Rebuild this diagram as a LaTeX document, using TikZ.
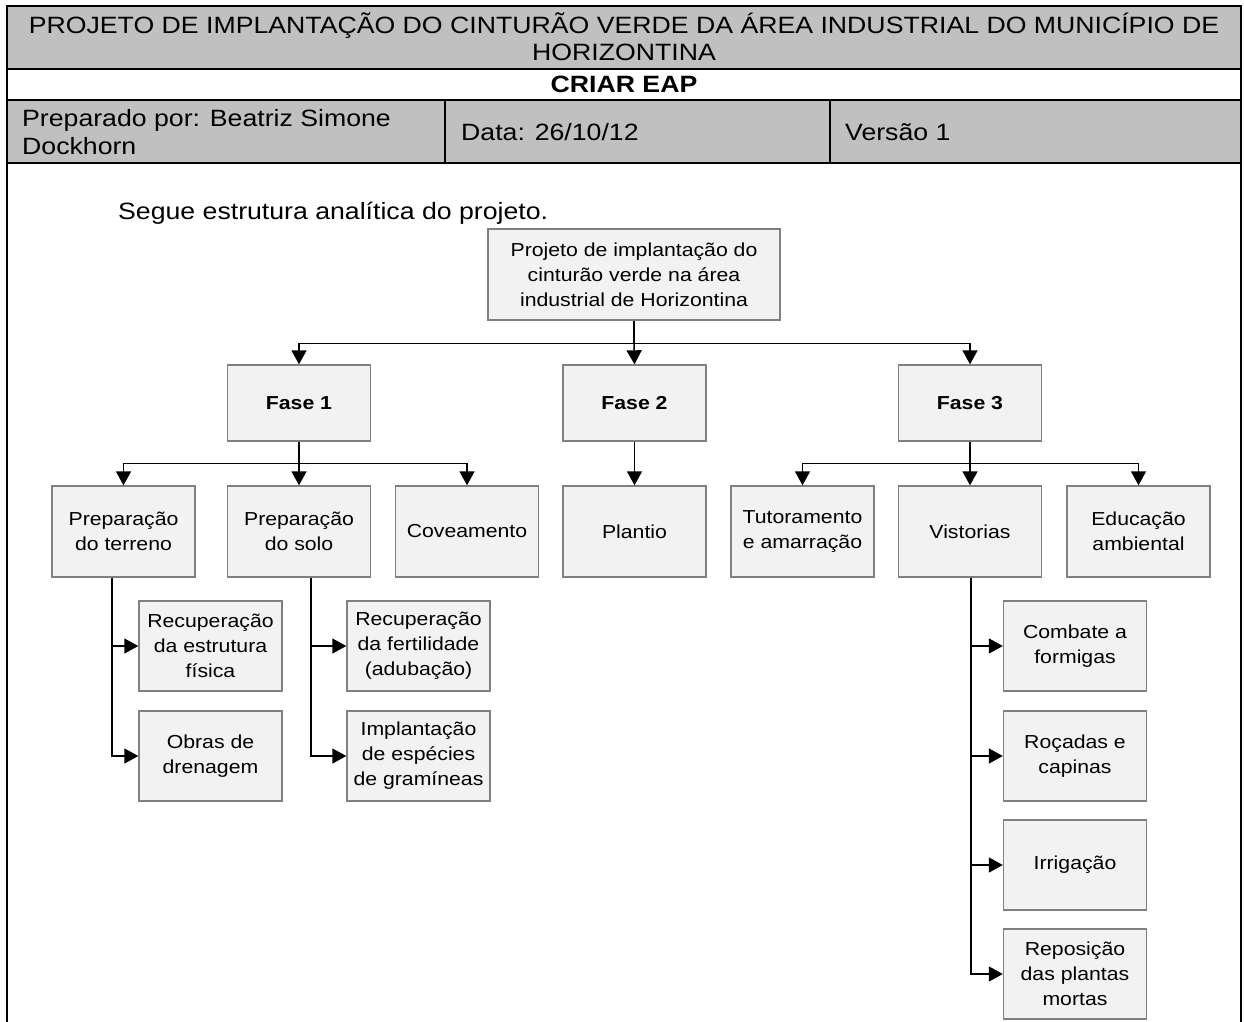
\documentclass[tikz,border=0pt]{standalone}
\usepackage{fontspec}
\setmainfont{Liberation Sans}[FakeStretch=1.13]
\usetikzlibrary{arrows.meta}
\definecolor{hdrgray}{HTML}{C0C0C0}
\definecolor{boxfill}{HTML}{F2F2F2}
\definecolor{boxline}{HTML}{808080}
\begin{document}
\begin{tikzpicture}[x=1pt,y=-1pt,
  tbltext/.style={inner sep=0pt,font=\fontsize{23.6}{27.5}\selectfont},
  wbs/.style={draw=boxline,fill=boxfill,line width=1.4pt,inner sep=2pt,
    align=center,font=\fontsize{18.8}{25}\selectfont,
    minimum width=143pt,minimum height=91pt},
  conn/.style={line width=1.5pt,black},
  arr/.style={conn,-{Triangle[width=15pt,length=14pt]}}]
\useasboundingbox (0,0) rectangle (1244,1021);
% form header
\fill[hdrgray] (7,6) rectangle (1241,69);
\fill[hdrgray] (7,100) rectangle (1241,163);
\draw[line width=2.5pt] (7,1030) -- (7,6) -- (1241,6) -- (1241,1030);
\draw[line width=2.5pt] (7,69) -- (1241,69);
\draw[line width=2.5pt] (7,100) -- (1241,100);
\draw[line width=2.5pt] (7,163) -- (1241,163);
\draw[line width=2.5pt] (445,100) -- (445,163);
\draw[line width=2.5pt] (830,100) -- (830,163);
\node[tbltext,align=center] (title) at (624,37) {PROJETO DE IMPLANTAÇÃO DO CINTURÃO VERDE DA ÁREA INDUSTRIAL DO MUNICÍPIO DE\\HORIZONTINA};
\node[tbltext,font=\fontsize{23.6}{27.5}\selectfont\bfseries] (sub) at (624,84.5) {CRIAR EAP};
\node[tbltext,align=left,anchor=west] (prep) at (22,132) {Preparado por: Beatriz Simone\\Dockhorn};
\node[tbltext,anchor=west] (data) at (461,132) {Data: 26/10/12};
\node[tbltext,anchor=west] (vers) at (845,132) {Versão 1};
\node[tbltext,anchor=west] (intro) at (118,213) {Segue estrutura analítica do projeto.};
% work breakdown structure
\node[wbs,minimum width=292pt] (root) at (634,274.5) {Projeto de implantação do\\cinturão verde na área\\industrial de Horizontina};
\node[wbs,minimum height=76pt,font=\fontsize{18.8}{25}\selectfont\bfseries] (f1) at (299,403) {Fase 1};
\node[wbs,minimum height=76pt,font=\fontsize{18.8}{25}\selectfont\bfseries] (f2) at (634.5,403) {Fase 2};
\node[wbs,minimum height=76pt,font=\fontsize{18.8}{25}\selectfont\bfseries] (f3) at (970,403) {Fase 3};
\node[wbs] (pt) at (123.5,531.5) {Preparação\\do terreno};
\node[wbs] (ps) at (299,531.5) {Preparação\\do solo};
\node[wbs] (cov) at (467,531.5) {Coveamento};
\node[wbs] (pla) at (634.5,531.5) {Plantio};
\node[wbs] (tut) at (802.5,531.5) {Tutoramento\\e amarração};
\node[wbs] (vis) at (970,531.5) {Vistorias};
\node[wbs] (edu) at (1138.5,531.5) {Educação\\ambiental};
\node[wbs,minimum height=90pt] (ref) at (210.5,646) {Recuperação\\da estrutura\\física};
\node[wbs,minimum height=90pt] (obr) at (210.5,756) {Obras de\\drenagem};
\node[wbs,minimum height=90pt] (rfe) at (418.5,646) {Recuperação\\da fertilidade\\(adubação)};
\node[wbs,minimum height=90pt] (imp) at (418.5,756) {Implantação\\de espécies\\de gramíneas};
\node[wbs,minimum height=90pt] (cmb) at (1075,646) {Combate a\\formigas};
\node[wbs,minimum height=90pt] (roc) at (1075,756) {Roçadas e\\capinas};
\node[wbs,minimum height=90pt] (irr) at (1075,865) {Irrigação};
\node[wbs,minimum height=90pt] (rep) at (1075,974) {Reposição\\das plantas\\mortas};
% connectors
\draw[conn] (root.south) -- ++(0,23) coordinate (b0);
\draw[arr] (b0) -| (f1.north);
\draw[arr] (b0) -- (f2.north);
\draw[arr] (b0) -| (f3.north);
\draw[conn] (f1.south) -- ++(0,22) coordinate (b1);
\draw[arr] (b1) -| (pt.north);
\draw[arr] (b1) -- (ps.north);
\draw[arr] (b1) -| (cov.north);
\draw[arr] (f2.south) -- (pla.north);
\draw[conn] (f3.south) -- ++(0,22) coordinate (b3);
\draw[arr] (b3) -| (tut.north);
\draw[arr] (b3) -- (vis.north);
\draw[arr] (b3) -| (edu.north);
\draw[arr] ([xshift=-11.5pt]pt.south) |- (ref.west);
\draw[arr] ([xshift=-11.5pt]pt.south) |- (obr.west);
\draw[arr] ([xshift=12pt]ps.south) |- (rfe.west);
\draw[arr] ([xshift=12pt]ps.south) |- (imp.west);
\draw[arr] ([xshift=1pt]vis.south) |- (cmb.west);
\draw[arr] ([xshift=1pt]vis.south) |- (roc.west);
\draw[arr] ([xshift=1pt]vis.south) |- (irr.west);
\draw[arr] ([xshift=1pt]vis.south) |- (rep.west);
\end{tikzpicture}
\end{document}
